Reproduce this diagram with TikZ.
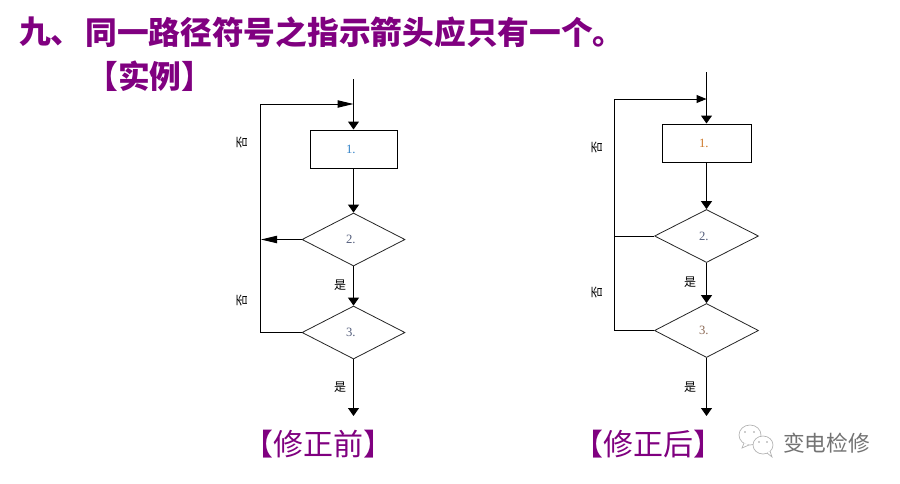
\documentclass[tikz,border=0pt]{standalone}
\usepackage{fontspec}
\usetikzlibrary{arrows.meta,shapes.geometric}
\setmainfont{Liberation Serif}
\newfontfamily\cjk{Noto Sans CJK SC}
\newfontfamily\cjkb{Noto Sans CJK SC Black}
\definecolor{ttl}{RGB}{128,0,128}
\definecolor{wm}{RGB}{115,115,115}
\definecolor{numblue}{RGB}{50,130,200}
\definecolor{numgrey}{RGB}{85,95,125}
\definecolor{numor}{RGB}{205,120,40}
\definecolor{numbr}{RGB}{140,105,85}
\tikzset{
 x=0.75pt,y=-0.75pt,
 flow/.style={draw=black,line width=0.75pt,-{Triangle[length=6pt,width=8.25pt]}},
 flowl/.style={draw=black,line width=0.75pt,-{Triangle[length=12pt,width=5.5pt]}},
 flowr/.style={draw=black,line width=0.75pt,-{Triangle[length=7.5pt,width=6pt]}},
 plain/.style={draw=black,line width=0.75pt},
 procbox/.style={draw=black,line width=0.75pt,rectangle,inner sep=0,font=\fontsize{9.5}{9.5}\selectfont},
 decis/.style={draw=black!85,line width=0.6pt,diamond,aspect=1.94,inner sep=0,font=\fontsize{9.5}{9.5}\selectfont},
 lab/.style={inner sep=0,font=\cjk\fontsize{9}{9}\selectfont},
 rlab/.style={lab,rotate=90},
 ttlb/.style={inner sep=0,anchor=west,text=ttl,font=\cjkb\fontsize{23.8}{25}\selectfont},
 capt/.style={inner sep=0,text=ttl,font=\cjk\fontsize{22.5}{24}\selectfont},
 bubble/.style={draw=wm!55,line width=0.5pt,fill=white},
}
\begin{document}
\begin{tikzpicture}
\useasboundingbox[fill=white] (0,0) rectangle (900,483);
\node[ttlb] (t1) at (19,32) {九、};
\node[ttlb] (t2) at (85,32) {同一路径符号之指示箭头应只有一个。};
\node[ttlb] (t3) at (86,76) {【实例】};
% left
\coordinate (ltop) at (353,79);
\node[procbox,minimum width=65.25pt,minimum height=28.5pt] (l1) at (353.5,149) {\hspace*{-4pt}\textcolor{numblue}{1.}};
\node[decis,minimum width=77.25pt,minimum height=39.75pt] (l2) at (353.5,239.5) {\hspace*{-4pt}\textcolor{numgrey}{2.}};
\node[decis,minimum width=77.25pt,minimum height=39.75pt] (l3) at (353.5,332.5) {\hspace*{-4pt}\textcolor{numgrey}{3.}};
\coordinate (lend) at (353.5,416);
\coordinate (lin) at (353.5,104);
\coordinate (lc1) at (260,104);
\coordinate (lc3) at (261,239.5);
\draw[flow] (ltop -| l1.north) -- (l1.north);
\draw[flow] (l1.south) -- (l2.north);
\draw[flow] (l2.south) -- (l3.north);
\draw[flow] (l3.south) -- (lend);
\draw[flowl] (l3.west) -- (l3.west -| lc1) -- (lc1) -- (lin);
\draw[flowl] (l2.west) -- (lc3);
\node[rlab] (ln1) at (242,142) {否};
\node[rlab] (ln2) at (242,300) {否};
\node[lab] (ly1) at (340,285) {是};
\node[lab] (ly2) at (340,387) {是};
% right
\coordinate (rtop) at (706,72);
\node[procbox,minimum width=66.75pt,minimum height=28.5pt] (r1) at (706.5,143) {\hspace*{-4pt}\textcolor{numor}{1.}};
\node[decis,minimum width=78pt,minimum height=39.75pt] (r2) at (706.5,236) {\hspace*{-4pt}\textcolor{numgrey}{2.}};
\node[decis,minimum width=78pt,minimum height=40.5pt] (r3) at (706.5,330.5) {\hspace*{-4pt}\textcolor{numbr}{3.}};
\coordinate (rend) at (706.5,416);
\coordinate (rin) at (706.5,99);
\coordinate (rc1) at (614,99);
\draw[flow] (rtop -| r1.north) -- (r1.north);
\draw[flow] (r1.south) -- (r2.north);
\draw[flow] (r2.south) -- (r3.north);
\draw[flow] (r3.south) -- (rend);
\draw[flowr] (r3.west) -- (r3.west -| rc1) -- (rc1) -- (rin);
\draw[plain] (r2.west) -- (r2.west -| rc1);
\node[rlab] (rn1) at (597,147) {否};
\node[rlab] (rn2) at (597,292) {否};
\node[lab] (ry1) at (690,282) {是};
\node[lab] (ry2) at (690,387) {是};
% captions
\node[capt] (c1) at (318,444) {【修正前】};
\node[capt] (c2) at (648,444) {【修正后】};
% watermark
\draw[bubble] (750,435) ellipse (11 and 10);
\draw[bubble] (744,443) -- (742,448) -- (749,445);
\draw[bubble] (763,445) ellipse (10 and 9);
\draw[bubble] (767,453) -- (772,457) -- (770,451);
\fill[wm!70] (745,432) circle (0.9) (754,432) circle (0.9) (759,442) circle (0.9) (767,442) circle (0.9);
\node[inner sep=0,text=wm,font=\cjk\fontsize{16.3}{17}\selectfont] (w) at (826.5,443) {变电检修};
\end{tikzpicture}
\end{document}
